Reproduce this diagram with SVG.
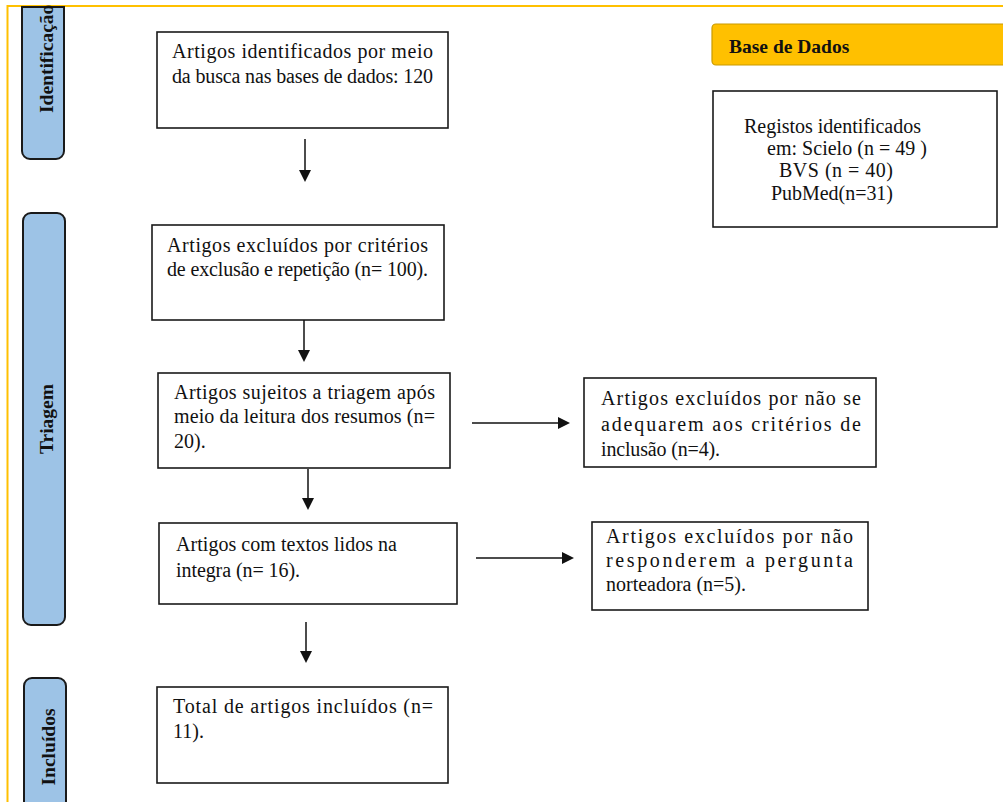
<svg xmlns="http://www.w3.org/2000/svg" width="1003" height="802" viewBox="0 0 1003 802">
<defs>
<style>
.box{fill:#fff;stroke:#1a1a1a;stroke-width:1.6}
.tab{fill:#9DC3E6;stroke:#1a1a1a;stroke-width:2}
.lbl{font-family:'Liberation Serif','Times New Roman',serif;font-size:20px;fill:#111}
.lblb{font-family:'Liberation Serif','Times New Roman',serif;font-size:19.5px;font-weight:bold;fill:#111}
.conn{stroke:#111;stroke-width:1.5;fill:none}
.head{fill:#111;stroke:none}
</style>
</defs>
<rect x="0" y="0" width="1003" height="802" fill="#fff"/>
<path d="M7.5,802 V6 H1003" fill="none" stroke="#FFC000" stroke-width="2"/>

<g id="box-identificados">
<rect class="box" x="157" y="32" width="291" height="96"/>
<text class="lbl" x="172" y="58" textLength="261">Artigos identificados por meio</text>
<text class="lbl" x="172" y="83" textLength="261">da busca nas bases de dados: 120</text>
</g>
<g id="box-excluidos-criterios">
<rect class="box" x="152" y="225" width="292" height="95"/>
<text class="lbl" x="167" y="252" textLength="261">Artigos excluídos por critérios</text>
<text class="lbl" x="167" y="276" textLength="261">de exclusão e repetição (n= 100).</text>
</g>
<g id="box-triagem-resumos">
<rect class="box" x="158" y="373" width="292" height="95"/>
<text class="lbl" x="174" y="399" textLength="261">Artigos sujeitos a triagem após</text>
<text class="lbl" x="174" y="423" textLength="261">meio da leitura dos resumos (n=</text>
<text class="lbl" x="174" y="448">20).</text>
</g>
<g id="box-textos-lidos">
<rect class="box" x="159" y="523" width="298" height="81"/>
<text class="lbl" x="176" y="551" textLength="221">Artigos com textos lidos na</text>
<text class="lbl" x="176" y="577" textLength="124">integra (n= 16).</text>
</g>
<g id="box-incluidos">
<rect class="box" x="157" y="687" width="291" height="96"/>
<text class="lbl" x="173" y="713" textLength="260">Total de artigos incluídos (n=</text>
<text class="lbl" x="173" y="738">11).</text>
</g>
<g id="registos">
<rect class="box" x="713" y="91" width="284" height="136"/>
<text class="lbl" x="744" y="133" textLength="177">Registos identificados</text>
<text class="lbl" x="767" y="155" textLength="160">em: Scielo (n = 49 )</text>
<text class="lbl" x="779" y="177" textLength="114">BVS (n = 40)</text>
<text class="lbl" x="771" y="200" textLength="122">PubMed(n=31)</text>
</g>
<g id="box-excluidos-inclusao">
<rect class="box" x="584" y="378" width="292" height="89"/>
<text class="lbl" x="601" y="405" textLength="260">Artigos excluídos por não se</text>
<text class="lbl" x="601" y="431" textLength="260">adequarem aos critérios de</text>
<text class="lbl" x="601" y="456" textLength="119">inclusão (n=4).</text>
</g>
<g id="box-excluidos-pergunta">
<rect class="box" x="592" y="522" width="276" height="88"/>
<text class="lbl" x="606" y="543" textLength="247">Artigos excluídos por não</text>
<text class="lbl" x="606" y="567" textLength="247">responderem a pergunta</text>
<text class="lbl" x="606" y="591" textLength="140">norteadora (n=5).</text>
</g>

<g id="tab-identificacao">
<path class="tab" d="M22,7 H64 V151 A8,8 0 0 1 56,159 H30 A8,8 0 0 1 22,151 Z"/>
<text class="lblb" transform="translate(53,113) rotate(-90)">Identificação</text>
</g>
<g id="tab-triagem">
<rect class="tab" x="23" y="213" width="42" height="412" rx="8"/>
<text class="lblb" transform="translate(53,419) rotate(-90)" text-anchor="middle">Triagem</text>
</g>
<g id="tab-incluidos">
<path class="tab" d="M24,802 V686 A8,8 0 0 1 32,678 H58 A8,8 0 0 1 66,686 V802"/>
<text class="lblb" transform="translate(55,747) rotate(-90)" text-anchor="middle">Incluídos</text>
</g>
<g id="base-de-dados">
<path d="M1003,24 H716 A4,4 0 0 0 712,28 V61 A4,4 0 0 0 716,65 H1003" fill="#FFC000" stroke="#C99A00" stroke-width="1.2"/>
<text class="lblb" x="729" y="53" font-size="20">Base de Dados</text>
</g>

<g id="connectors">
<path class="conn" d="M305,139 V172"/><path class="head" d="M299,170 L311,170 L305,182 Z"/>
<path class="conn" d="M304,320 V352"/><path class="head" d="M298,350 L310,350 L304,362 Z"/>
<path class="conn" d="M308,469 V500"/><path class="head" d="M302,498 L314,498 L308,510 Z"/>
<path class="conn" d="M306,622 V653"/><path class="head" d="M300,651 L312,651 L306,663 Z"/>
<path class="conn" d="M472,423 H560"/><path class="head" d="M558,417 L570,423 L558,429 Z"/>
<path class="conn" d="M476,558 H564"/><path class="head" d="M562,552 L574,558 L562,564 Z"/>
</g>
</svg>
